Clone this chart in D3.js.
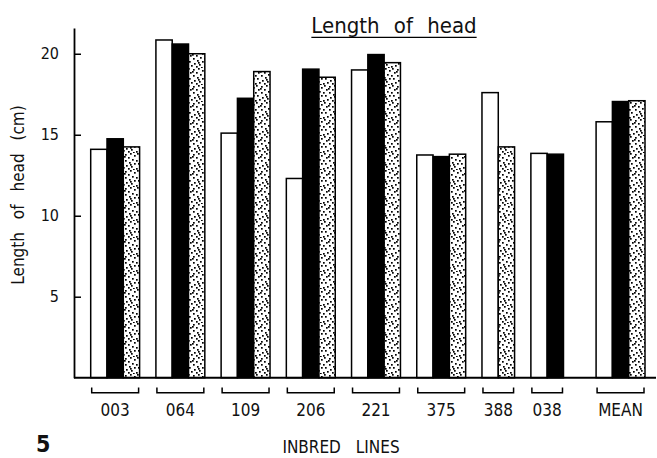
<!DOCTYPE html>
<html><head><meta charset="utf-8">
<script src="https://cdn.jsdelivr.net/npm/d3@7"></script>
<style>
html,body{margin:0;padding:0;background:#fff;}
svg{display:block;}
text{font-family:"DejaVu Sans Condensed","DejaVu Sans",sans-serif;fill:#111;}
</style></head>
<body><svg id="c" width="657" height="458"></svg>
<script>
const categories = ["003","064","109","206","221","375","388","038","MEAN"];
const whiteSeries  = [14.1, 20.85, 15.1, 12.3, 19.0, 13.75, 17.6, 13.85, 15.8];
const blackSeries  = [14.75, 20.6, 17.25, 19.05, 19.95, 13.65, null, 13.8, 17.05];
const dottedSeries = [14.25, 20.0, 18.9, 18.55, 19.45, 13.8, 14.25, null, 17.1];
const yTicks = [5, 10, 15, 20];
const titleText = "Length of head";
const yTitle = "Length of head (cm)";
const xTitle = "INBRED LINES";
const figNum = "5";

const series = [
  {key:"white", values: whiteSeries, fill:"#fff"},
  {key:"black", values: blackSeries, fill:"#000"},
  {key:"dotted", values: dottedSeries, fill:"url(#dots)"}
];

// build slots: consecutive bars per group, one empty slot between groups, extra before MEAN
const bars = [], groups = [];
let slot = 0;
categories.forEach((c, i) => {
  if (c === "MEAN") slot += 1;
  const start = slot;
  series.forEach(s => {
    const v = s.values[i];
    if (v != null) { bars.push({cat:c, series:s, value:v, slot:slot}); slot++; }
  });
  groups.push({cat:c, start:start, end:slot - 1});
  slot += 1;
});
const nSlots = slot - 1;

const svg = d3.select("#c");
const defs = svg.append("defs");
const pat = defs.append("pattern").attr("id","dots").attr("patternUnits","userSpaceOnUse")
  .attr("width",17).attr("height",17);
pat.append("rect").attr("width",17).attr("height",17).attr("fill","#fff");
const dotPts = [[1,0],[6,1],[11,0],[15,2],[3,4],[9,4],[13,6],[0,7],[6,7],[10,9],
                [2,10],[15,10],[7,12],[12,13],[4,14],[0,15],[9,15],[14,16],[5,3],[11,11]];
dotPts.forEach(p => pat.append("rect").attr("x",p[0]).attr("y",p[1]).attr("width",1.7).attr("height",1.7).attr("fill","#000"));

const x = d3.scaleBand().domain(d3.range(nSlots)).range([90.7, 645]).padding(0);
const y = d3.scaleLinear().domain([0, 21.59]).range([377.7, 28]);

// bars
svg.append("g").selectAll("rect").data(bars).join("rect")
  .attr("x", d => x(d.slot))
  .attr("y", d => y(d.value))
  .attr("width", x.bandwidth())
  .attr("height", d => y(0) - y(d.value))
  .attr("fill", d => d.series.fill)
  .attr("stroke", "#000").attr("stroke-width", 1.5);

// y axis
const yAxis = d3.axisLeft(y).tickValues(yTicks).tickSize(-7).tickSizeOuter(0).tickPadding(15);
const ga = svg.append("g").attr("transform","translate(74,0)").call(yAxis);
ga.select(".domain").attr("stroke","#000").attr("stroke-width",1.8);
ga.selectAll(".tick line").attr("stroke","#000").attr("stroke-width",1.5);
ga.selectAll(".tick text").attr("font-family",'"DejaVu Sans Condensed","DejaVu Sans",sans-serif')
  .attr("font-size",16).attr("fill","#111");

// baseline
svg.append("line").attr("x1",74).attr("x2",656).attr("y1",y(0)).attr("y2",y(0))
  .attr("stroke","#000").attr("stroke-width",2);

// group brackets and labels
const gb = svg.append("g");
groups.forEach(g => {
  const x0 = x(g.start) + 1, x1 = x(g.end) + x.bandwidth() - 1;
  gb.append("path").attr("d", `M${x0},387.5V392.7H${x1}V387.5`)
    .attr("fill","none").attr("stroke","#000").attr("stroke-width",1.5);
  gb.append("text").attr("x",(x0+x1)/2).attr("y",416).attr("text-anchor","middle")
    .attr("font-size",17).text(g.cat);
});

// title
const t = svg.append("text").attr("x",394).attr("y",33).attr("text-anchor","middle")
  .attr("font-size",22).attr("word-spacing",8).text(titleText);
const bb = t.node().getBBox();
svg.append("line").attr("x1",bb.x).attr("x2",bb.x+bb.width).attr("y1",37.3).attr("y2",37.3)
  .attr("stroke","#000").attr("stroke-width",1.2);

// y title
svg.append("text").attr("transform","translate(24,195) rotate(-90)").attr("text-anchor","middle")
  .attr("font-size",17).attr("word-spacing",8).text(yTitle);

// x title
svg.append("text").attr("x",341).attr("y",453).attr("text-anchor","middle")
  .attr("font-size",17).attr("word-spacing",10).text(xTitle);

// figure number
svg.append("text").attr("x",36).attr("y",452).attr("font-family","Liberation Sans, Arial, sans-serif")
  .attr("font-weight","bold").attr("font-size",23).text(figNum);
</script></body></html>
